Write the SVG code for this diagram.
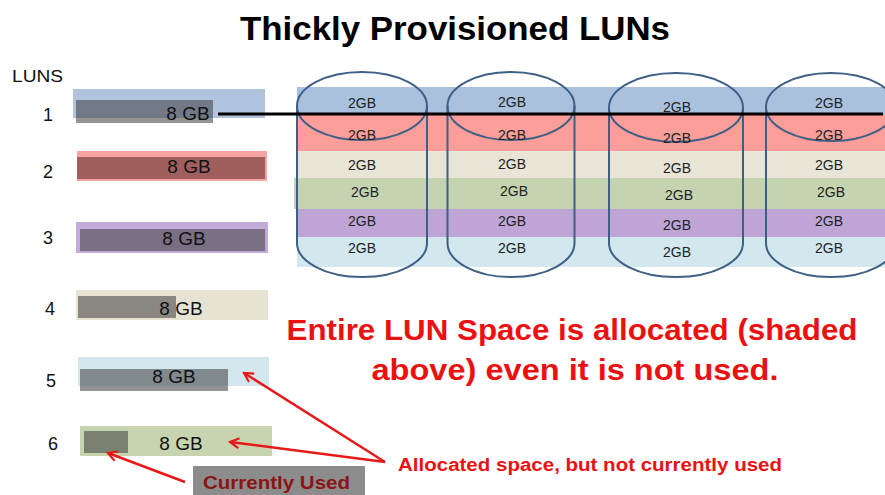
<svg xmlns="http://www.w3.org/2000/svg" width="885" height="495" viewBox="0 0 885 495">
<defs>
<style>
text{font-family:"Liberation Sans",Arial,sans-serif;}
.title{font-size:34px;font-weight:bold;fill:#000;}
.num{font-size:18px;fill:#111;text-anchor:middle;}
.gb{font-size:19px;fill:#111;text-anchor:middle;}
.g2{font-size:14px;fill:#222;text-anchor:middle;}
.cyl{fill:none;stroke:#3e5f86;stroke-width:2;}
.used{fill:#3c3c3c;fill-opacity:0.55;}
.red{fill:#ec1111;font-weight:bold;}
.arr{stroke:#e81818;stroke-width:2.5;fill:none;}
</style>
<marker id="ah" viewBox="0 0 12 12" refX="10" refY="6" markerWidth="12" markerHeight="12" markerUnits="userSpaceOnUse" orient="auto">
<path d="M1,1 L10,6 L1,11" fill="none" stroke="#e81818" stroke-width="2.2"/>
</marker>
</defs>
<rect width="885" height="495" fill="#fff"/>
<text class="title" x="455" y="40" text-anchor="middle" textLength="430" lengthAdjust="spacingAndGlyphs">Thickly Provisioned LUNs</text>

<g id="stripes">
<rect x="297" y="87" width="588" height="28" fill="#a9c1dd"/>
<rect x="297" y="115" width="588" height="36" fill="#fb9d98"/>
<rect x="297" y="151" width="588" height="27" fill="#e8e4d6"/>
<rect x="294" y="178" width="591" height="31" fill="#c5d3b0"/>
<rect x="297" y="209" width="588" height="28" fill="#bea5d6"/>
<rect x="297" y="237" width="588" height="30" fill="#d3e7ef"/>
</g>

<text x="12" y="82" style="font-size:16px" fill="#111" textLength="51" lengthAdjust="spacingAndGlyphs">LUNS</text>

<g id="lun1">
<text class="num" x="48" y="121">1</text>
<rect x="73" y="89" width="192" height="29" fill="#b0c4de"/>
<rect class="used" x="76" y="100" width="137" height="23"/>
<text class="gb" x="188" y="120">8 GB</text>
</g>
<g id="lun2">
<text class="num" x="48" y="178">2</text>
<rect x="77" y="151" width="190" height="30" fill="#f7a4a2"/>
<rect x="77" y="157" width="188" height="22" fill="#5a2424" fill-opacity="0.55"/>
<text class="gb" x="189" y="173">8 GB</text>
</g>
<g id="lun3">
<text class="num" x="48" y="244">3</text>
<rect x="76" y="222" width="192" height="31" fill="#c4aad8"/>
<rect class="used" x="80" y="229" width="185" height="22"/>
<text class="gb" x="184" y="245">8 GB</text>
</g>
<g id="lun4">
<text class="num" x="50" y="315">4</text>
<rect x="76" y="290" width="192" height="30" fill="#e6e3d3"/>
<rect class="used" x="78" y="296" width="98" height="22"/>
<text class="gb" x="181" y="315">8 GB</text>
</g>
<g id="lun5">
<text class="num" x="51" y="387">5</text>
<rect x="78" y="357" width="191" height="29" fill="#d2e6ee"/>
<rect class="used" x="80" y="369" width="148" height="22"/>
<text class="gb" x="174" y="383">8 GB</text>
</g>
<g id="lun6">
<text class="num" x="53" y="450">6</text>
<rect x="80" y="426" width="192" height="30" fill="#c8d4b0"/>
<rect class="used" x="84" y="431" width="44" height="22"/>
<text class="gb" x="181" y="450">8 GB</text>
</g>

<g id="cyl1">
<ellipse class="cyl" cx="362" cy="106" rx="65" ry="34"/>
<path class="cyl" d="M297,106 V243 A65,34 0 0 0 427,243 V106"/>
<text class="g2" x="362" y="108">2GB</text>
<text class="g2" x="362" y="140">2GB</text>
<text class="g2" x="362" y="170">2GB</text>
<text class="g2" x="365" y="197">2GB</text>
<text class="g2" x="362" y="226">2GB</text>
<text class="g2" x="362" y="253">2GB</text>
</g>
<g id="cyl2">
<ellipse class="cyl" cx="511" cy="106" rx="63.5" ry="34"/>
<path class="cyl" d="M447.5,106 V243 A63.5,34 0 0 0 574.5,243 V106"/>
<text class="g2" x="512" y="107">2GB</text>
<text class="g2" x="512" y="140">2GB</text>
<text class="g2" x="512" y="169">2GB</text>
<text class="g2" x="514" y="196">2GB</text>
<text class="g2" x="512" y="226">2GB</text>
<text class="g2" x="512" y="253">2GB</text>
</g>
<g id="cyl3">
<ellipse class="cyl" cx="676" cy="107.5" rx="67" ry="34.5"/>
<path class="cyl" d="M609,107.5 V243 A67,34 0 0 0 743,243 V107.5"/>
<text class="g2" x="677" y="112">2GB</text>
<text class="g2" x="677" y="143">2GB</text>
<text class="g2" x="677" y="173">2GB</text>
<text class="g2" x="679" y="200">2GB</text>
<text class="g2" x="677" y="230">2GB</text>
<text class="g2" x="677" y="257">2GB</text>
</g>
<g id="cyl4">
<ellipse class="cyl" cx="831" cy="107" rx="65" ry="34"/>
<path class="cyl" d="M766,107 V243 A65,34 0 0 0 896,243 V107"/>
<text class="g2" x="829" y="108">2GB</text>
<text class="g2" x="829" y="140">2GB</text>
<text class="g2" x="829" y="170">2GB</text>
<text class="g2" x="831" y="197">2GB</text>
<text class="g2" x="829" y="226">2GB</text>
<text class="g2" x="829" y="253">2GB</text>
</g>

<g id="connectors">
<line x1="218" y1="114" x2="883" y2="114" stroke="#000" stroke-width="3"/>
<line class="arr" x1="385" y1="462" x2="244" y2="373" marker-end="url(#ah)"/>
<line class="arr" x1="385" y1="462" x2="230" y2="442" marker-end="url(#ah)"/>
<line class="arr" x1="185" y1="482" x2="108" y2="453" marker-end="url(#ah)"/>
</g>

<text class="red" x="572" y="340" text-anchor="middle" style="font-size:29px" textLength="571" lengthAdjust="spacingAndGlyphs">Entire LUN Space is allocated (shaded</text>
<text class="red" x="575" y="380" text-anchor="middle" style="font-size:29px" textLength="407" lengthAdjust="spacingAndGlyphs">above)  even it is not used.</text>
<text class="red" x="398" y="471" style="font-size:18px" textLength="384" lengthAdjust="spacingAndGlyphs">Allocated space, but not currently used</text>

<g id="current">
<rect x="193" y="466" width="172" height="29" fill="#8c8c8c"/>
<text x="203" y="489" style="font-size:19px;font-weight:bold" fill="#8b1414" textLength="147" lengthAdjust="spacingAndGlyphs">Currently Used</text>
</g>
</svg>
